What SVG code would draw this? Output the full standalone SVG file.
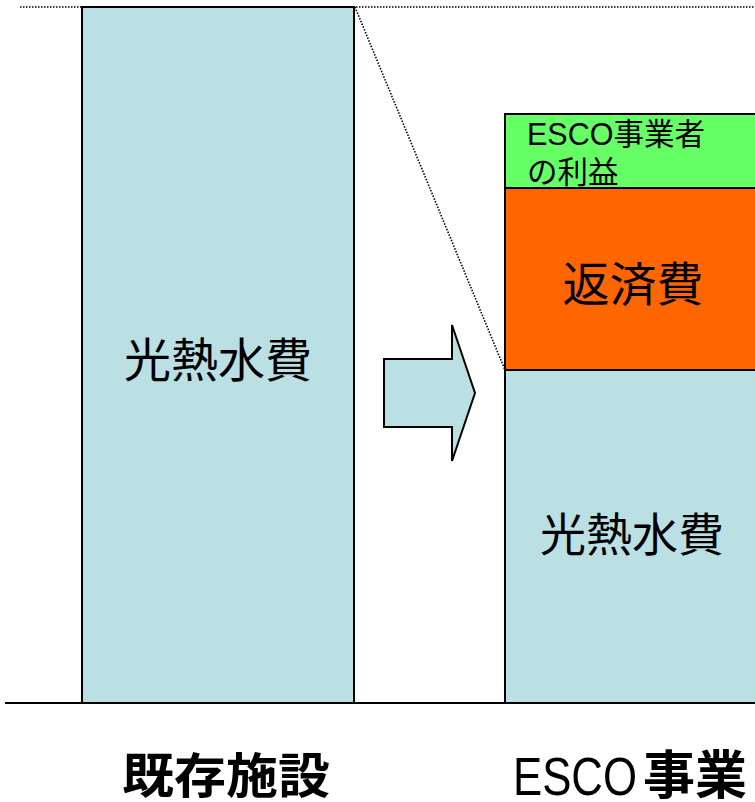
<svg xmlns="http://www.w3.org/2000/svg" width="755" height="802" viewBox="0 0 755 802">
<style>
.bar{stroke:#000;stroke-width:2}
.cyan{fill:#BBE0E3}
.green{fill:#66FF66}
.orange{fill:#FF6600}
.dot{fill:none;stroke:#000;stroke-width:1.6;stroke-dasharray:1.5 1.5}
.t{font-family:"Liberation Sans","Noto Sans CJK JP",sans-serif;fill:#000}
.cjk{font-family:"Noto Sans CJK JP","Liberation Sans",sans-serif;fill:#000}
</style>
<rect width="755" height="802" fill="#fff"/>
<g id="connectors">
<line class="dot" x1="20" y1="7" x2="755" y2="7"/>
<line class="dot" x1="355" y1="7" x2="505" y2="370"/>
</g>
<g id="existing-utility">
<rect class="bar cyan" x="82" y="7" width="272" height="696"/>
<text class="cjk" x="218" y="377" font-size="47" text-anchor="middle">光熱水費</text>
</g>
<g id="esco-profit">
<rect class="bar green" x="505" y="114" width="260" height="74"/>
<text class="t" x="527" y="145" font-size="30.5">ESCO事業者</text>
<text class="t" x="527" y="183" font-size="30.5">の利益</text>
</g>
<g id="repayment">
<rect class="bar orange" x="505" y="188" width="260" height="182"/>
<text class="cjk" x="633" y="301" font-size="47" text-anchor="middle">返済費</text>
</g>
<g id="esco-utility">
<rect class="bar cyan" x="505" y="370" width="260" height="333"/>
<text class="cjk" x="632" y="551" font-size="46" text-anchor="middle">光熱水費</text>
</g>
<g id="arrow">
<path class="cyan" d="M384,359 H452 V325 L475,393 L452,461 V427 H384 Z" stroke="#000" stroke-width="2" stroke-linejoin="miter"/>
</g>
<g id="baseline">
<line x1="5" y1="703" x2="755" y2="703" stroke="#000" stroke-width="2"/>
</g>
<g id="label-existing">
<text class="cjk" x="122" y="793" font-size="48" font-weight="bold" textLength="208" lengthAdjust="spacingAndGlyphs">既存施設</text>
</g>
<g id="label-esco">
<text class="cjk" x="513" y="795"><tspan class="t" font-size="54" textLength="124" lengthAdjust="spacingAndGlyphs">ESCO</tspan><tspan x="643" y="794" font-size="52" font-weight="bold">事業</tspan></text>
</g>
</svg>
